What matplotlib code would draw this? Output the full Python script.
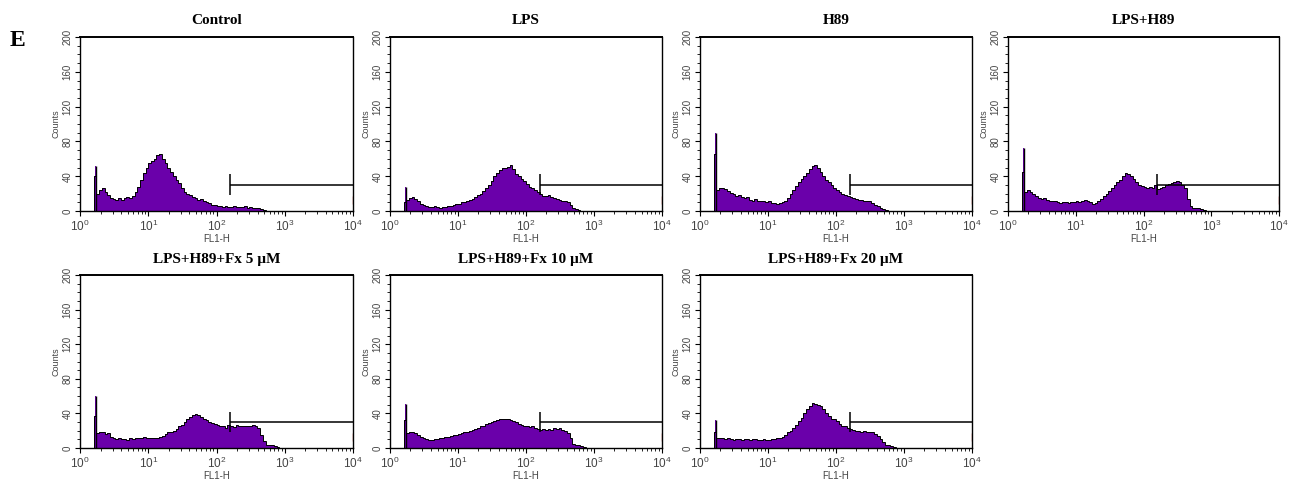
import numpy as np
import matplotlib
matplotlib.use("Agg")
import matplotlib.pyplot as plt
from matplotlib.ticker import LogLocator, MultipleLocator, FixedLocator, NullFormatter

plt.rcParams["font.family"] = ["Liberation Sans", "DejaVu Sans"]
plt.rcParams["mathtext.default"] = "regular"

# ---------------- data ----------------
titles = ["Control", "LPS", "H89", "LPS+H89",
          "LPS+H89+Fx 5 \u00b5M", "LPS+H89+Fx 10 \u00b5M", "LPS+H89+Fx 20 \u00b5M"]

# histogram channels: log10(FL1-H) bins of 0.04 decade starting at 10^0.20
bin_start_log = 0.20
bin_step_log = 0.04

counts_control = [40, 20, 24, 26, 22, 18, 15, 14, 13, 15, 13, 15, 16, 15, 17, 22, 28, 36, 44, 50,
                  55, 57, 60, 64, 66, 60, 55, 50, 45, 40, 36, 32, 27, 22, 19, 18, 16, 15, 13, 14,
                  11, 10, 9, 7, 7, 6, 6, 5, 6, 5, 5, 6, 5, 5, 5, 6, 4, 5, 4, 4,
                  3, 2, 1, 0, 0, 0, 0, 0, 0, 0]
counts_lps = [10, 13, 15, 16, 14, 11, 8, 7, 6, 5, 5, 6, 5, 4, 5, 5, 6, 6, 7, 8,
              8, 10, 10, 11, 13, 14, 16, 18, 20, 23, 26, 30, 35, 40, 44, 47, 49, 50, 51, 53,
              48, 43, 40, 37, 34, 31, 28, 26, 24, 22, 19, 17, 17, 18, 16, 15, 14, 13, 12, 11,
              10, 7, 4, 2, 1, 0, 0, 0, 0, 0]
counts_h89 = [65, 24, 26, 27, 25, 23, 21, 19, 17, 18, 16, 15, 16, 13, 12, 14, 12, 11, 12, 10,
              11, 9, 9, 8, 9, 10, 12, 15, 19, 24, 29, 33, 37, 40, 44, 48, 52, 53, 49, 45,
              40, 36, 33, 30, 27, 24, 22, 20, 18, 17, 16, 15, 14, 13, 13, 12, 11, 11, 9, 7,
              6, 4, 2, 1, 0, 0, 0, 0, 0, 0]
counts_lps_h89 = [45, 22, 24, 22, 20, 17, 15, 14, 15, 13, 12, 11, 12, 10, 9, 10, 10, 9, 10, 10,
                  11, 10, 11, 13, 12, 10, 8, 9, 12, 14, 17, 20, 23, 27, 30, 33, 36, 40, 44, 43,
                  40, 37, 33, 30, 29, 28, 27, 28, 27, 30, 25, 27, 28, 30, 31, 32, 33, 35, 33, 30,
                  26, 14, 6, 4, 3, 3, 2, 1, 0, 0]
counts_fx5 = [37, 17, 19, 18, 16, 17, 13, 11, 10, 11, 10, 10, 9, 11, 10, 11, 12, 11, 13, 12,
              11, 12, 11, 12, 13, 14, 16, 18, 19, 20, 22, 25, 27, 30, 33, 36, 38, 39, 38, 36,
              34, 32, 30, 29, 28, 27, 26, 25, 23, 27, 26, 24, 27, 26, 25, 26, 25, 26, 27, 26,
              23, 15, 8, 4, 3, 3, 2, 1, 0, 0]
counts_fx10 = [32, 17, 19, 18, 17, 15, 13, 11, 10, 9, 9, 10, 10, 11, 12, 13, 13, 14, 15, 15,
               16, 17, 18, 18, 20, 21, 22, 23, 25, 26, 28, 29, 30, 31, 32, 33, 34, 33, 34, 32,
               31, 30, 28, 27, 26, 25, 24, 25, 23, 22, 21, 22, 21, 22, 21, 23, 22, 23, 21, 20,
               17, 12, 5, 3, 3, 2, 1, 0, 0, 0]
counts_fx20 = [19, 11, 12, 11, 10, 11, 10, 9, 10, 10, 9, 10, 10, 9, 10, 10, 9, 9, 10, 9,
               9, 10, 10, 11, 11, 13, 15, 18, 20, 23, 27, 31, 35, 40, 45, 49, 52, 51, 50, 48,
               45, 41, 37, 34, 33, 31, 28, 26, 25, 23, 22, 21, 20, 20, 19, 20, 19, 18, 19, 16,
               14, 10, 7, 4, 3, 2, 1, 0, 0, 0]

all_counts = [counts_control, counts_lps, counts_h89, counts_lps_h89,
              counts_fx5, counts_fx10, counts_fx20]

# narrow debris spike near FL1-H ~ 1.7
spike_pos = 1.70
spike_heights = [52, 28, 90, 72, 60, 51, 32]

# marker gate (M1)
gate_start = 158
gate_end = 1e4
gate_level = 30
gate_half_tick = 12

x_ticks = [1, 10, 100, 1000, 10000]
y_ticks = [0, 40, 80, 120, 160, 200]

# ---------------- layout ----------------
W, H = 1293, 480
fig = plt.figure(figsize=(W / 100, H / 100), dpi=100)

purple = "#6a00aa"
col_left = [80, 390, 700, 1008]
col_w = [273, 272, 272, 271]
rows = [(37, 211), (275, 448)]

positions = [(0, 0), (0, 1), (0, 2), (0, 3), (1, 0), (1, 1), (1, 2)]

edges = 10 ** (bin_start_log + bin_step_log * np.arange(len(counts_control) + 1))

for i, (r, c) in enumerate(positions):
    top, bot = rows[r]
    ax = fig.add_axes([col_left[c] / W, 1 - bot / H, col_w[c] / W, (bot - top) / H])
    vals = np.array(all_counts[i], dtype=float)
    ax.stairs(vals, edges, fill=True, color=purple, lw=0, zorder=2)
    ax.stairs(vals, edges, color="black", lw=0.7, zorder=3)
    # spike
    sp_lo, sp_hi = spike_pos * 0.985, spike_pos * 1.015
    ax.fill_between([sp_lo, sp_hi], 0, spike_heights[i], color=purple, lw=0, zorder=2)
    ax.vlines(spike_pos, 0, spike_heights[i], color="black", lw=1.0, zorder=3)
    # gate
    ax.hlines(gate_level, gate_start, gate_end, color="black", lw=1.1, zorder=4)
    ax.vlines(gate_start, gate_level - gate_half_tick, gate_level + gate_half_tick,
              color="black", lw=1.1, zorder=4)
    ax.vlines(gate_end * 0.985, 8, 17, color="#c0392b", lw=1.0, zorder=4)

    ax.set_xscale("log")
    ax.set_xlim(1, 1e4)
    ax.set_ylim(0, 200)
    ax.xaxis.set_major_locator(FixedLocator(x_ticks))
    ax.xaxis.set_minor_locator(LogLocator(base=10, subs=np.arange(2, 10), numticks=20))
    ax.xaxis.set_minor_formatter(NullFormatter())
    ax.set_xticklabels([r"$10^{%d}$" % int(np.log10(v)) for v in x_ticks])
    ax.yaxis.set_major_locator(FixedLocator(y_ticks))
    ax.yaxis.set_minor_locator(MultipleLocator(10))
    ax.set_yticklabels([str(v) for v in y_ticks], rotation=90, va="center")

    ax.tick_params(axis="both", which="major", direction="out", length=3.5, width=0.8,
                   labelsize=7, labelcolor="#444444", pad=2)
    ax.tick_params(axis="both", which="minor", direction="out", length=2, width=0.6)
    ax.tick_params(axis="x", labelsize=8.5)
    for s in ax.spines.values():
        s.set_linewidth(1.0)
        s.set_zorder(5)
    ax.spines["top"].set_linewidth(1.4)

    ax.set_xlabel("FL1-H", fontsize=7, color="#444444", labelpad=0)
    ax.set_ylabel("Counts", fontsize=6.5, color="#444444", labelpad=1)
    ax.set_title(titles[i], fontsize=11, fontweight="bold",
                 family="Liberation Serif", pad=9)

fig.text(10 / W, 1 - 40 / H, "E", fontsize=17, fontweight="bold",
         family="Liberation Serif", va="center", ha="left")

fig.savefig("out.png", dpi=100)
